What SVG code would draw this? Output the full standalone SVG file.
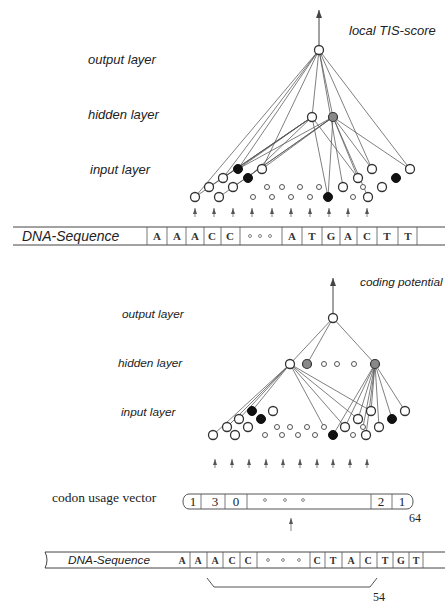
<svg xmlns="http://www.w3.org/2000/svg" width="445" height="607" viewBox="0 0 445 607">
<defs>
<marker id="ah" viewBox="0 0 8 6" refX="8" refY="3" markerWidth="8" markerHeight="6" orient="auto" markerUnits="userSpaceOnUse">
<path d="M0,0 L8,3 L0,6 Z" fill="#444"/>
</marker>
<marker id="sh" viewBox="0 0 6 4" refX="6" refY="2" markerWidth="6" markerHeight="4" orient="auto" markerUnits="userSpaceOnUse">
<path d="M0,0 L6,2 L0,4 Z" fill="#555"/>
</marker>
</defs>
<style>
.lbl{font-family:"Liberation Sans",Arial,sans-serif;font-style:italic;fill:#222}
.t1{font-size:13px}
.t2{font-size:11.8px}
.ser{font-family:"Liberation Serif","Times New Roman",serif;fill:#222}
.cell{font-family:"Liberation Serif","Times New Roman",serif;font-size:11px;font-weight:bold;fill:#333;text-anchor:middle}
.num{font-family:"Liberation Serif","Times New Roman",serif;font-size:13px;fill:#222;text-anchor:middle}
.n{fill:#fff;stroke:#333;stroke-width:1.3}
.b{fill:#111;stroke:#111;stroke-width:1}
.g{fill:#888;stroke:#333;stroke-width:1.2}
.s{fill:#fff;stroke:#555;stroke-width:1}
.c line{stroke:#555;stroke-width:0.75}
.bar{fill:none;stroke:#444;stroke-width:1}
.sep{stroke:#555;stroke-width:0.8}
.ar{stroke:#666;stroke-width:0.8;marker-end:url(#sh)}
.dot{fill:none;stroke:#666;stroke-width:0.8}
</style>
<rect width="445" height="607" fill="#fff"/>

<!-- labels -->
<text class="lbl t1" x="349" y="35">local TIS-score</text>
<text class="lbl t1" x="88" y="64">output layer</text>
<text class="lbl t1" x="88" y="119">hidden layer</text>
<text class="lbl t1" x="90" y="174">input layer</text>
<text class="lbl t2" x="360" y="286">coding potential</text>
<text class="lbl t2" x="122" y="318">output layer</text>
<text class="lbl t2" x="118" y="367">hidden layer</text>
<text class="lbl t2" x="121" y="416">input layer</text>

<!-- connectors -->
<g id="connectors" class="c">
<line x1="319" y1="45" x2="319" y2="10" style="stroke:#444;stroke-width:1;marker-end:url(#ah)"/>
<line x1="319" y1="50" x2="195" y2="197"/>
<line x1="319" y1="50" x2="223" y2="178"/>
<line x1="319" y1="50" x2="238" y2="169"/>
<line x1="319" y1="50" x2="262" y2="169"/>
<line x1="319" y1="50" x2="312" y2="117"/>
<line x1="319" y1="50" x2="333" y2="117"/>
<line x1="319" y1="50" x2="343" y2="187"/>
<line x1="319" y1="50" x2="372" y2="169"/>
<line x1="319" y1="50" x2="410" y2="169"/>
<line x1="312" y1="117" x2="195" y2="197"/>
<line x1="312" y1="117" x2="209" y2="187"/>
<line x1="312" y1="117" x2="223" y2="178"/>
<line x1="312" y1="117" x2="238" y2="169"/>
<line x1="312" y1="117" x2="248" y2="178"/>
<line x1="312" y1="117" x2="328" y2="197"/>
<line x1="312" y1="117" x2="358" y2="178"/>
<line x1="333" y1="117" x2="219" y2="197"/>
<line x1="333" y1="117" x2="233" y2="187"/>
<line x1="333" y1="117" x2="238" y2="169"/>
<line x1="333" y1="117" x2="262" y2="169"/>
<line x1="333" y1="117" x2="328" y2="197"/>
<line x1="333" y1="117" x2="358" y2="178"/>
<line x1="333" y1="117" x2="372" y2="169"/>
<line x1="333" y1="117" x2="368" y2="197"/>
<line x1="333" y1="117" x2="410" y2="169"/>

<line x1="333" y1="313" x2="333" y2="278" style="stroke:#444;stroke-width:1;marker-end:url(#ah)"/>
<line x1="333" y1="318" x2="290" y2="364"/>
<line x1="333" y1="318" x2="307" y2="364"/>
<line x1="333" y1="318" x2="375" y2="364"/>
<line x1="290" y1="364" x2="213" y2="435"/>
<line x1="290" y1="364" x2="227" y2="427"/>
<line x1="290" y1="364" x2="239" y2="419"/>
<line x1="290" y1="364" x2="252" y2="411"/>
<line x1="290" y1="364" x2="324" y2="427"/>
<line x1="290" y1="364" x2="345" y2="427"/>
<line x1="290" y1="364" x2="358" y2="419"/>
<line x1="290" y1="364" x2="371" y2="411"/>
<line x1="375" y1="364" x2="333" y2="435"/>
<line x1="375" y1="364" x2="345" y2="427"/>
<line x1="375" y1="364" x2="358" y2="419"/>
<line x1="375" y1="364" x2="363" y2="427"/>
<line x1="375" y1="364" x2="366" y2="435"/>
<line x1="375" y1="364" x2="371" y2="411"/>
<line x1="375" y1="364" x2="379" y2="427"/>
<line x1="375" y1="364" x2="392" y2="419"/>
<line x1="375" y1="364" x2="405" y2="411"/>
</g>

<!-- top network nodes -->
<g id="top-output"><circle class="n" cx="319" cy="50" r="4.5"/></g>
<g id="top-hidden-1"><circle class="n" cx="312" cy="117" r="4.5"/></g>
<g id="top-hidden-2"><circle class="g" cx="333" cy="117" r="4.5"/></g>
<g id="top-input">
<circle class="b" cx="238" cy="169" r="4.5"/>
<circle class="n" cx="262" cy="169" r="4.5"/>
<circle class="n" cx="223" cy="178" r="4.5"/>
<circle class="b" cx="248" cy="178" r="4.5"/>
<circle class="n" cx="209" cy="187" r="4.5"/>
<circle class="n" cx="233" cy="187" r="4.5"/>
<circle class="n" cx="195" cy="197" r="4.5"/>
<circle class="n" cx="219" cy="197" r="4.5"/>
<circle class="s" cx="267" cy="187" r="2.5"/>
<circle class="s" cx="282" cy="187" r="2.5"/>
<circle class="s" cx="300" cy="187" r="2.5"/>
<circle class="s" cx="319" cy="187" r="2.5"/>
<circle class="s" cx="253" cy="197" r="2.5"/>
<circle class="s" cx="272" cy="197" r="2.5"/>
<circle class="s" cx="291" cy="197" r="2.5"/>
<circle class="s" cx="310" cy="197" r="2.5"/>
<circle class="b" cx="328" cy="197" r="4.5"/>
<circle class="s" cx="353" cy="197" r="2.5"/>
<circle class="n" cx="368" cy="197" r="4.5"/>
<circle class="n" cx="343" cy="187" r="4.5"/>
<circle class="s" cx="363" cy="187" r="2.5"/>
<circle class="n" cx="358" cy="178" r="4.5"/>
<circle class="n" cx="382" cy="187" r="4.5"/>
<circle class="b" cx="396" cy="178" r="4.5"/>
<circle class="n" cx="372" cy="169" r="4.5"/>
<circle class="n" cx="410" cy="169" r="4.5"/>
</g>

<!-- top input arrows -->
<g id="top-arrows">
<line class="ar" x1="195" y1="217" x2="195" y2="208"/>
<line class="ar" x1="214" y1="217" x2="214" y2="208"/>
<line class="ar" x1="233" y1="217" x2="233" y2="208"/>
<line class="ar" x1="252" y1="217" x2="252" y2="208"/>
<line class="ar" x1="272" y1="217" x2="272" y2="208"/>
<line class="ar" x1="291" y1="217" x2="291" y2="208"/>
<line class="ar" x1="310" y1="217" x2="310" y2="208"/>
<line class="ar" x1="329" y1="217" x2="329" y2="208"/>
<line class="ar" x1="348" y1="217" x2="348" y2="208"/>
<line class="ar" x1="367" y1="217" x2="367" y2="208"/>
</g>

<!-- top DNA sequence -->
<g id="top-dna">
<line class="bar" x1="13" y1="227" x2="445" y2="227"/>
<line class="bar" x1="13" y1="245" x2="445" y2="245"/>
<text class="lbl" x="22" y="241" style="font-size:14px">DNA-Sequence</text>
<g class="sep">
<line x1="147" y1="227" x2="147" y2="245"/>
<line x1="167" y1="227" x2="167" y2="245"/>
<line x1="186" y1="227" x2="186" y2="245"/>
<line x1="204" y1="227" x2="204" y2="245"/>
<line x1="221" y1="227" x2="221" y2="245"/>
<line x1="240" y1="227" x2="240" y2="245"/>
<line x1="282" y1="227" x2="282" y2="245"/>
<line x1="302" y1="227" x2="302" y2="245"/>
<line x1="322" y1="227" x2="322" y2="245"/>
<line x1="340" y1="227" x2="340" y2="245"/>
<line x1="357" y1="227" x2="357" y2="245"/>
<line x1="377" y1="227" x2="377" y2="245"/>
<line x1="398" y1="227" x2="398" y2="245"/>
<line x1="417" y1="227" x2="417" y2="245"/>
</g>
<text class="cell" x="157" y="240">A</text>
<text class="cell" x="177" y="240">A</text>
<text class="cell" x="195" y="240">A</text>
<text class="cell" x="212" y="240">C</text>
<text class="cell" x="230" y="240">C</text>
<circle class="dot" cx="250" cy="236" r="1.5"/>
<circle class="dot" cx="260" cy="236" r="1.5"/>
<circle class="dot" cx="270" cy="236" r="1.5"/>
<text class="cell" x="292" y="240">A</text>
<text class="cell" x="312" y="240">T</text>
<text class="cell" x="331" y="240">G</text>
<text class="cell" x="348" y="240">A</text>
<text class="cell" x="367" y="240">C</text>
<text class="cell" x="387" y="240">T</text>
<text class="cell" x="408" y="240">T</text>
</g>

<!-- bottom network nodes -->
<g id="bot-output"><circle class="n" cx="333" cy="318" r="4.5"/></g>
<g id="bot-hidden">
<circle class="n" cx="290" cy="364" r="4.5"/>
<circle class="g" cx="307" cy="364" r="4.5"/>
<circle class="s" cx="324" cy="364" r="2.5"/>
<circle class="s" cx="337" cy="364" r="2.5"/>
<circle class="s" cx="354" cy="364" r="2.5"/>
<circle class="g" cx="375" cy="364" r="4.5"/>
</g>
<g id="bot-input">
<circle class="b" cx="252" cy="411" r="4.5"/>
<circle class="n" cx="273" cy="411" r="4.5"/>
<circle class="n" cx="239" cy="419" r="4.5"/>
<circle class="b" cx="261" cy="419" r="4.5"/>
<circle class="n" cx="227" cy="427" r="4.5"/>
<circle class="n" cx="248" cy="427" r="4.5"/>
<circle class="n" cx="213" cy="435" r="4.5"/>
<circle class="n" cx="235" cy="435" r="4.5"/>
<circle class="s" cx="277" cy="427" r="2.5"/>
<circle class="s" cx="290" cy="427" r="2.5"/>
<circle class="s" cx="307" cy="427" r="2.5"/>
<circle class="s" cx="324" cy="427" r="2.5"/>
<circle class="s" cx="265" cy="435" r="2.5"/>
<circle class="s" cx="282" cy="435" r="2.5"/>
<circle class="s" cx="298" cy="435" r="2.5"/>
<circle class="s" cx="315" cy="435" r="2.5"/>
<circle class="b" cx="333" cy="435" r="4.5"/>
<circle class="s" cx="353" cy="435" r="2.5"/>
<circle class="n" cx="366" cy="435" r="4.5"/>
<circle class="n" cx="345" cy="427" r="4.5"/>
<circle class="s" cx="363" cy="427" r="2.5"/>
<circle class="n" cx="358" cy="419" r="4.5"/>
<circle class="n" cx="379" cy="427" r="4.5"/>
<circle class="b" cx="392" cy="419" r="4.5"/>
<circle class="n" cx="371" cy="411" r="4.5"/>
<circle class="n" cx="405" cy="411" r="4.5"/>
</g>

<!-- bottom input arrows -->
<g id="bot-arrows">
<line class="ar" x1="215" y1="468" x2="215" y2="459"/>
<line class="ar" x1="232" y1="468" x2="232" y2="459"/>
<line class="ar" x1="249" y1="468" x2="249" y2="459"/>
<line class="ar" x1="266" y1="468" x2="266" y2="459"/>
<line class="ar" x1="283" y1="468" x2="283" y2="459"/>
<line class="ar" x1="300" y1="468" x2="300" y2="459"/>
<line class="ar" x1="317" y1="468" x2="317" y2="459"/>
<line class="ar" x1="333" y1="468" x2="333" y2="459"/>
<line class="ar" x1="350" y1="468" x2="350" y2="459"/>
<line class="ar" x1="367" y1="468" x2="367" y2="459"/>
</g>

<!-- codon usage vector -->
<g id="codon-vector">
<text class="ser" x="52" y="502" style="font-size:13.5px">codon usage vector</text>
<rect x="183" y="494" width="230" height="15" rx="6" ry="7" fill="#fff" stroke="#555" stroke-width="1"/>
<g class="sep">
<line x1="201" y1="494" x2="201" y2="509"/>
<line x1="225" y1="494" x2="225" y2="509"/>
<line x1="247" y1="494" x2="247" y2="509"/>
<line x1="371" y1="494" x2="371" y2="509"/>
<line x1="392" y1="494" x2="392" y2="509"/>
</g>
<text class="num" x="193" y="506">1</text>
<text class="num" x="215" y="506">3</text>
<text class="num" x="236" y="506">0</text>
<circle class="dot" cx="265" cy="500" r="1.4"/>
<circle class="dot" cx="285" cy="500" r="1.4"/>
<circle class="dot" cx="303" cy="500" r="1.4"/>
<text class="num" x="381" y="506">2</text>
<text class="num" x="402" y="506">1</text>
<text class="num" x="415" y="522" style="font-size:12px">64</text>
<line class="ar" x1="291" y1="531" x2="291" y2="518"/>
</g>

<!-- bottom DNA sequence -->
<g id="bot-dna">
<path class="bar" d="M445,552 H45 Q49,560 45,568 H445"/>
<text class="lbl" x="68" y="564" style="font-size:11.8px">DNA-Sequence</text>
<g class="sep">
<line x1="190" y1="552" x2="190" y2="568"/>
<line x1="207" y1="552" x2="207" y2="568"/>
<line x1="223" y1="552" x2="223" y2="568"/>
<line x1="240" y1="552" x2="240" y2="568"/>
<line x1="257" y1="552" x2="257" y2="568"/>
<line x1="310" y1="552" x2="310" y2="568"/>
<line x1="325" y1="552" x2="325" y2="568"/>
<line x1="342" y1="552" x2="342" y2="568"/>
<line x1="360" y1="552" x2="360" y2="568"/>
<line x1="377" y1="552" x2="377" y2="568"/>
<line x1="393" y1="552" x2="393" y2="568"/>
<line x1="409" y1="552" x2="409" y2="568"/>
<line x1="423" y1="552" x2="423" y2="568"/>
</g>
<text class="cell" x="182" y="564" style="font-size:10px">A</text>
<text class="cell" x="198" y="564" style="font-size:10px">A</text>
<text class="cell" x="215" y="564" style="font-size:10px">A</text>
<text class="cell" x="232" y="564" style="font-size:10px">C</text>
<text class="cell" x="248" y="564" style="font-size:10px">C</text>
<circle class="dot" cx="268" cy="560" r="1.4"/>
<circle class="dot" cx="283" cy="560" r="1.4"/>
<circle class="dot" cx="299" cy="560" r="1.4"/>
<text class="cell" x="317" y="564" style="font-size:10px">C</text>
<text class="cell" x="333" y="564" style="font-size:10px">T</text>
<text class="cell" x="351" y="564" style="font-size:10px">A</text>
<text class="cell" x="368" y="564" style="font-size:10px">C</text>
<text class="cell" x="385" y="564" style="font-size:10px">T</text>
<text class="cell" x="401" y="564" style="font-size:10px">G</text>
<text class="cell" x="416" y="564" style="font-size:10px">T</text>
<path d="M207,578 L214,587 H370 L377,578" fill="none" stroke="#555" stroke-width="1"/>
<text class="num" x="379" y="601" style="font-size:12px">54</text>
</g>
</svg>
